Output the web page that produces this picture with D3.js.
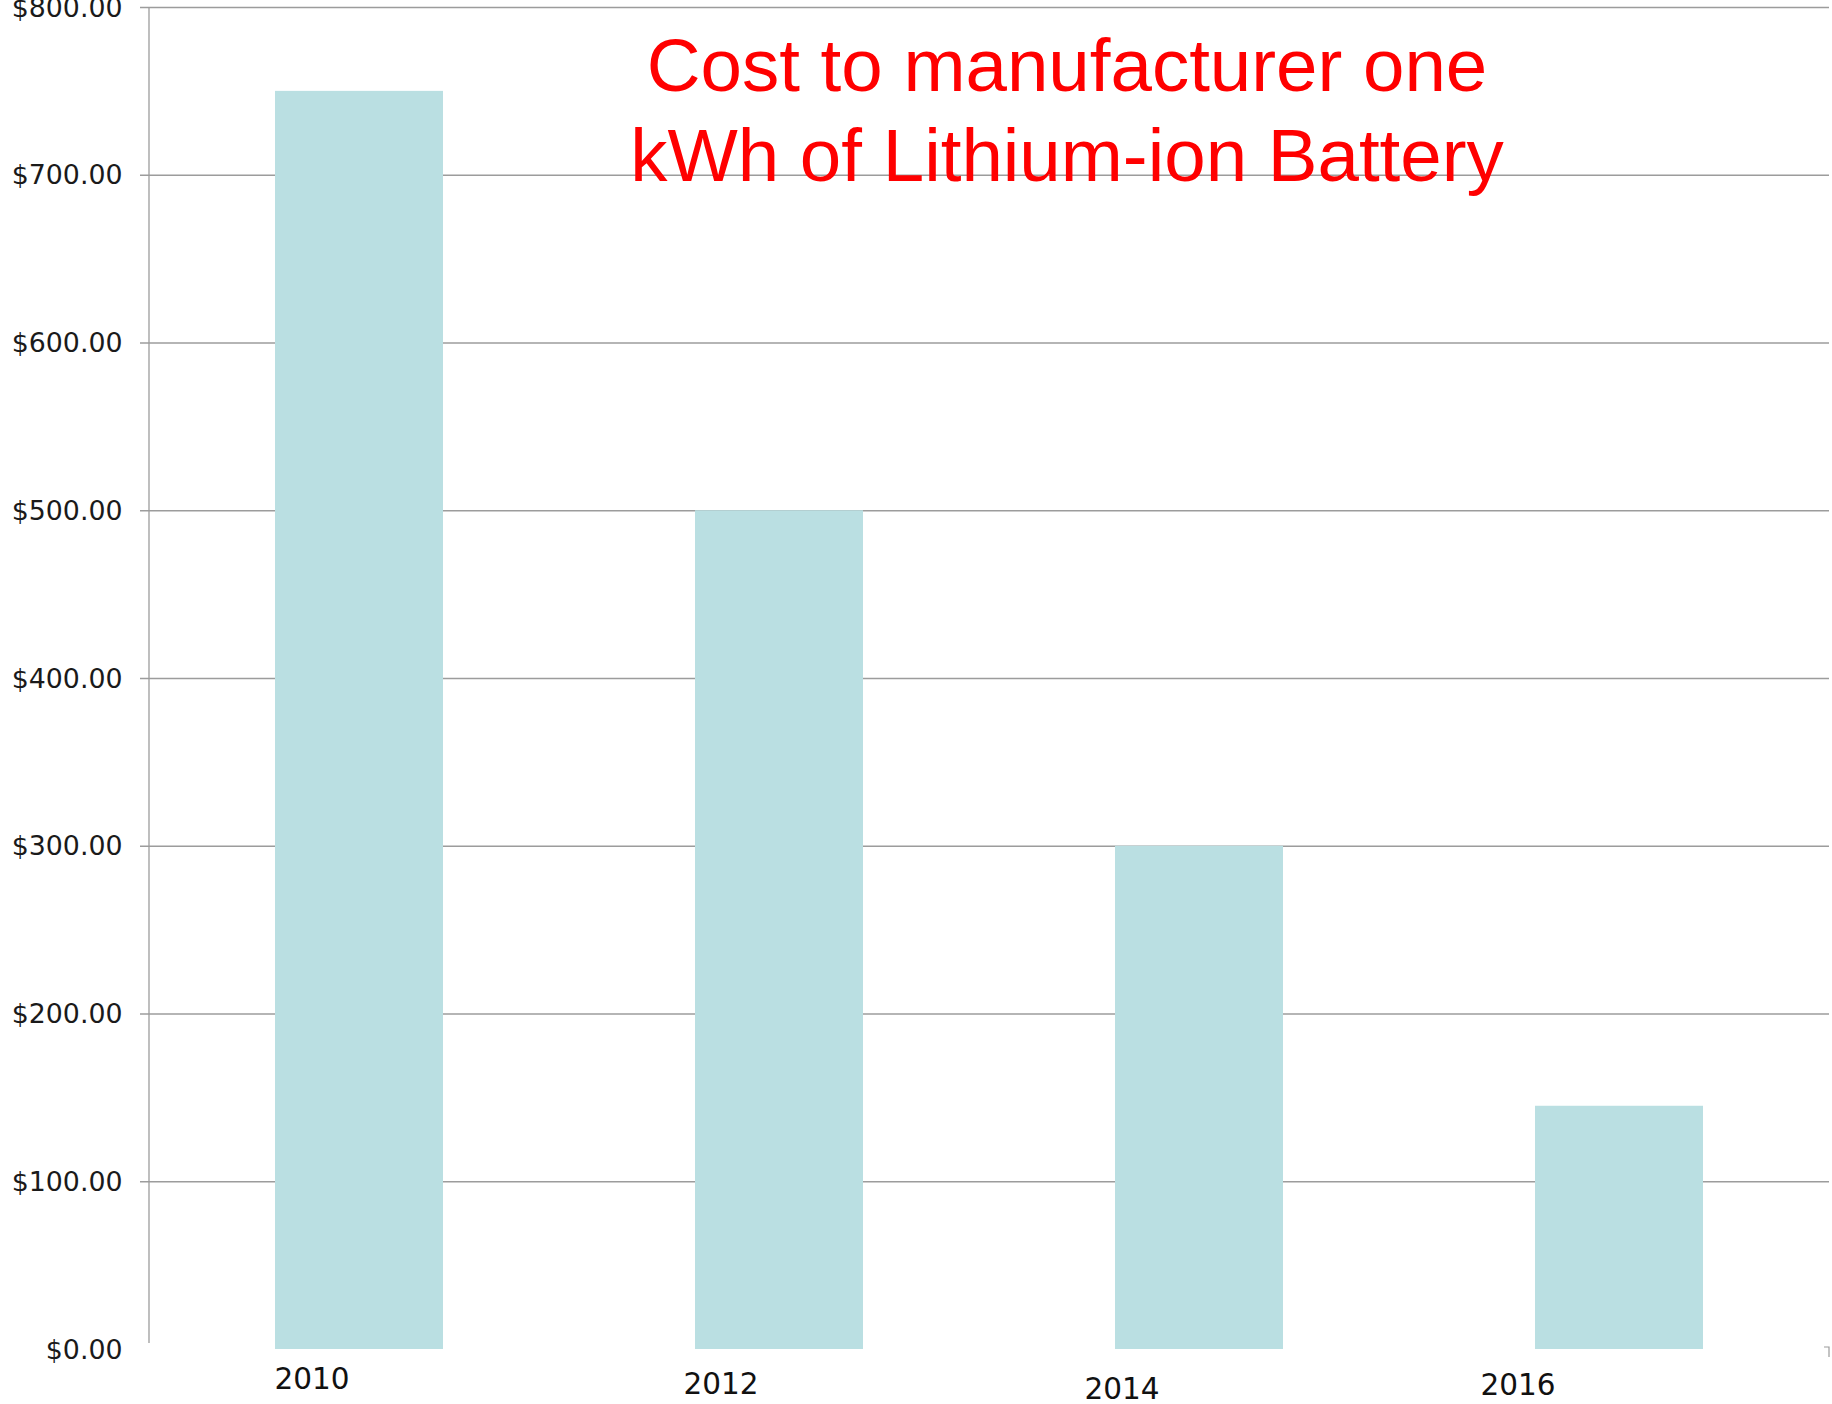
<!DOCTYPE html>
<html>
<head>
<meta charset="utf-8">
<script src="https://cdn.jsdelivr.net/npm/d3@7"></script>
<style>
  html, body { margin: 0; padding: 0; background: #fff; }
  svg { display: block; }
</style>
</head>
<body>
<svg id="chart" width="1832" height="1404"></svg>
<script>
// Battery pack manufacturing cost per kWh, by year
const years = ["2010", "2012", "2014", "2016"];
const costs = [750, 500, 300, 145];
const yTickValues = [0, 100, 200, 300, 400, 500, 600, 700, 800];
const titleLines = ["Cost to manufacturer one", "kWh of Lithium-ion Battery"];

const plot = { left: 149, right: 1829, top: 7, bottom: 1349 };

const svg = d3.select("#chart");

const x = d3.scaleBand()
  .domain(years)
  .range([plot.left, plot.right])
  .paddingInner(0.6)
  .paddingOuter(0.3);

// category labels sit a little left of (and below) their bars
const xLabelX = d3.scaleOrdinal().domain(years).range([312, 721, 1122, 1518]);
const xLabelY = d3.scaleOrdinal().domain(years).range([1389, 1394, 1399, 1395]);

const y = d3.scaleLinear()
  .domain([0, 800])
  .range([plot.bottom, plot.top]);

const fmt = v => "$" + d3.format(".2f")(v);

// horizontal gridlines with short outside ticks
const grid = svg.append("g")
  .attr("transform", `translate(${plot.right},0)`)
  .call(d3.axisLeft(y)
    .tickValues(yTickValues.filter(v => v > 0))
    .tickSize(plot.right - plot.left + 9)
    .tickFormat(""));
grid.select(".domain").remove();
grid.selectAll(".tick line")
  .attr("stroke", "#9c9c9c")
  .attr("stroke-width", 1.3);

// y tick labels
svg.append("g")
  .selectAll("text")
  .data(yTickValues)
  .join("text")
  .attr("x", plot.left - 26.5)
  .attr("y", d => y(d))
  .attr("text-anchor", "end")
  .attr("dominant-baseline", "central")
  .attr("font-family", "DejaVu Sans, Verdana, sans-serif")
  .attr("font-size", 26.8)
  .attr("fill", "#1a1a1a")
  .text(fmt);

// bars
svg.append("g")
  .selectAll("rect")
  .data(years.map((yr, i) => ({ yr, v: costs[i] })))
  .join("rect")
  .attr("x", d => x(d.yr))
  .attr("width", x.bandwidth())
  .attr("y", d => y(d.v))
  .attr("height", d => y(0) - y(d.v))
  .attr("fill", "#badfe2");

// vertical axis line
svg.append("line")
  .attr("x1", plot.left).attr("x2", plot.left)
  .attr("y1", y(800)).attr("y2", y(0) - 6)
  .attr("stroke", "#9c9c9c")
  .attr("stroke-width", 1.3);

// small corner mark at the end of the category axis
svg.append("path")
  .attr("d", `M${plot.right - 5},${y(0) - 2}H${plot.right}V${y(0) + 8}`)
  .attr("fill", "none")
  .attr("stroke", "#9c9c9c")
  .attr("stroke-width", 1.2);

// category labels
svg.append("g")
  .selectAll("text")
  .data(years)
  .join("text")
  .attr("x", d => xLabelX(d))
  .attr("y", d => xLabelY(d))
  .attr("text-anchor", "middle")
  .attr("font-family", "DejaVu Sans, Verdana, sans-serif")
  .attr("font-size", 29.5)
  .attr("fill", "#111")
  .text(d => d);

// title
svg.append("text")
  .attr("text-anchor", "middle")
  .attr("font-family", "Liberation Sans, Arial, sans-serif")
  .attr("font-size", 74.5)
  .attr("fill", "#ff0000")
  .selectAll("tspan")
  .data(titleLines)
  .join("tspan")
  .attr("x", 1067)
  .attr("y", (d, i) => 91 + i * 90)
  .text(d => d);
</script>
</body>
</html>
